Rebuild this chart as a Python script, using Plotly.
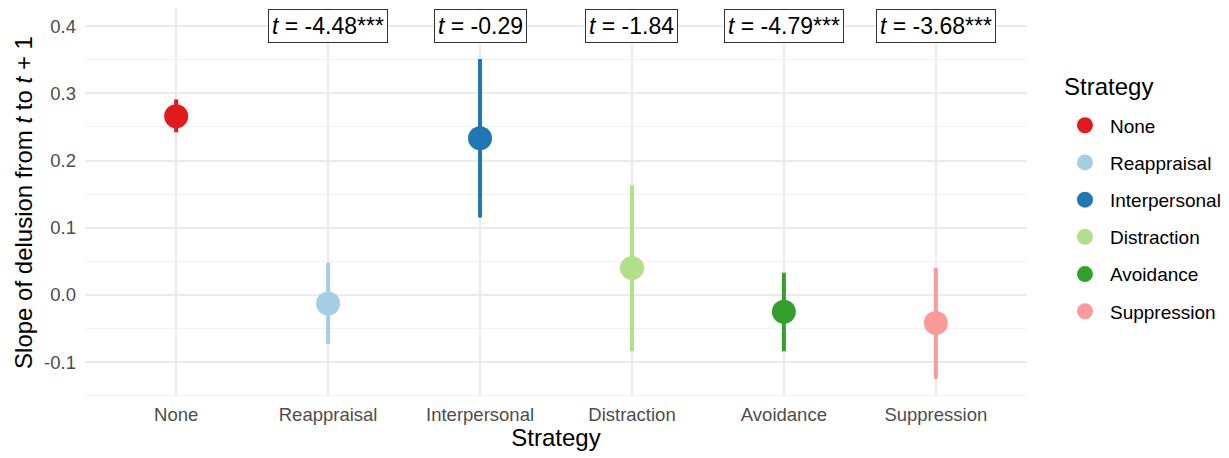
import plotly.graph_objects as go

# Strategy estimates with confidence intervals
strategies = ["None", "Reappraisal", "Interpersonal", "Distraction", "Avoidance", "Suppression"]
estimates = [0.266, -0.013, 0.233, 0.040, -0.025, -0.042]
ci_low = [0.242, -0.073, 0.115, -0.084, -0.084, -0.125]
ci_high = [0.291, 0.048, 0.351, 0.163, 0.033, 0.040]
colors = ["#E31A1C", "#A6CEE3", "#1F78B4", "#B2DF8A", "#33A02C", "#FB9A99"]

# Contrast statistics against "None"
t_labels = ["", "-4.48***", "-0.29", "-1.84", "-4.79***", "-3.68***"]

FONT = "Liberation Sans, Arial, sans-serif"

fig = go.Figure()

for i, (name, est, lo, hi, col) in enumerate(zip(strategies, estimates, ci_low, ci_high, colors)):
    fig.add_trace(go.Scatter(
        x=[i], y=[est],
        mode="markers",
        name=name,
        legendgroup=name,
        marker=dict(color=col, size=24, line=dict(width=0)),
        error_y=dict(type="data", symmetric=False,
                     array=[hi - est], arrayminus=[est - lo],
                     color=col, thickness=4, width=0),
    ))

# zero reference line
fig.add_hline(y=0, line=dict(color="black", width=1.6), layer="below")

for i, lab in enumerate(t_labels):
    if not lab:
        continue
    fig.add_annotation(
        x=i, y=0.4, xref="x", yref="y",
        text=f"<i>t</i> = {lab}",
        showarrow=False,
        font=dict(family=FONT, size=23, color="black"),
        bgcolor="white", bordercolor="#333333", borderwidth=1, borderpad=3,
    )

# legend heading
fig.add_annotation(
    x=1.037, y=0.797, xref="paper", yref="paper",
    xanchor="left", yanchor="middle",
    text="Strategy", showarrow=False,
    font=dict(family=FONT, size=24, color="black"),
)

fig.update_layout(
    width=1229, height=458,
    margin=dict(l=85, r=202, t=8, b=61, autoexpand=False),
    paper_bgcolor="white", plot_bgcolor="white",
    font=dict(family=FONT, color="black"),
    legend=dict(
        font=dict(size=19, color="black"),
        x=1.035, xanchor="left", y=0.747, yanchor="top",
        tracegroupgap=9.5,
        itemwidth=40,
    ),
    showlegend=True,
)

fig.update_xaxes(
    range=[-0.6, 5.6],
    tickvals=list(range(len(strategies))),
    ticktext=strategies,
    tickfont=dict(size=18.5, color="#4D4D4D"),
    ticklabelstandoff=4,
    showgrid=True, gridcolor="#EBEBEB", gridwidth=1.5,
    zeroline=False, showline=False, ticks="",
    title=dict(text="Strategy", font=dict(size=24, color="black"), standoff=3),
)

fig.update_yaxes(
    range=[-0.152, 0.427],
    tickvals=[-0.1, 0.0, 0.1, 0.2, 0.3, 0.4],
    ticktext=["-0.1", "0.0", "0.1", "0.2", "0.3", "0.4"],
    tickfont=dict(size=18.5, color="#4D4D4D"),
    ticklabelstandoff=8,
    showgrid=True, gridcolor="#EBEBEB", gridwidth=1.5,
    minor=dict(tickvals=[-0.15, -0.05, 0.05, 0.15, 0.25, 0.35], showgrid=True,
               gridcolor="#F2F2F2", gridwidth=1),
    zeroline=False, showline=False, ticks="",
    title=dict(text="Slope of delusion from <i>t</i> to <i>t</i> + 1",
               font=dict(size=24, color="black"), standoff=4),
)

fig.write_html("out.html")
